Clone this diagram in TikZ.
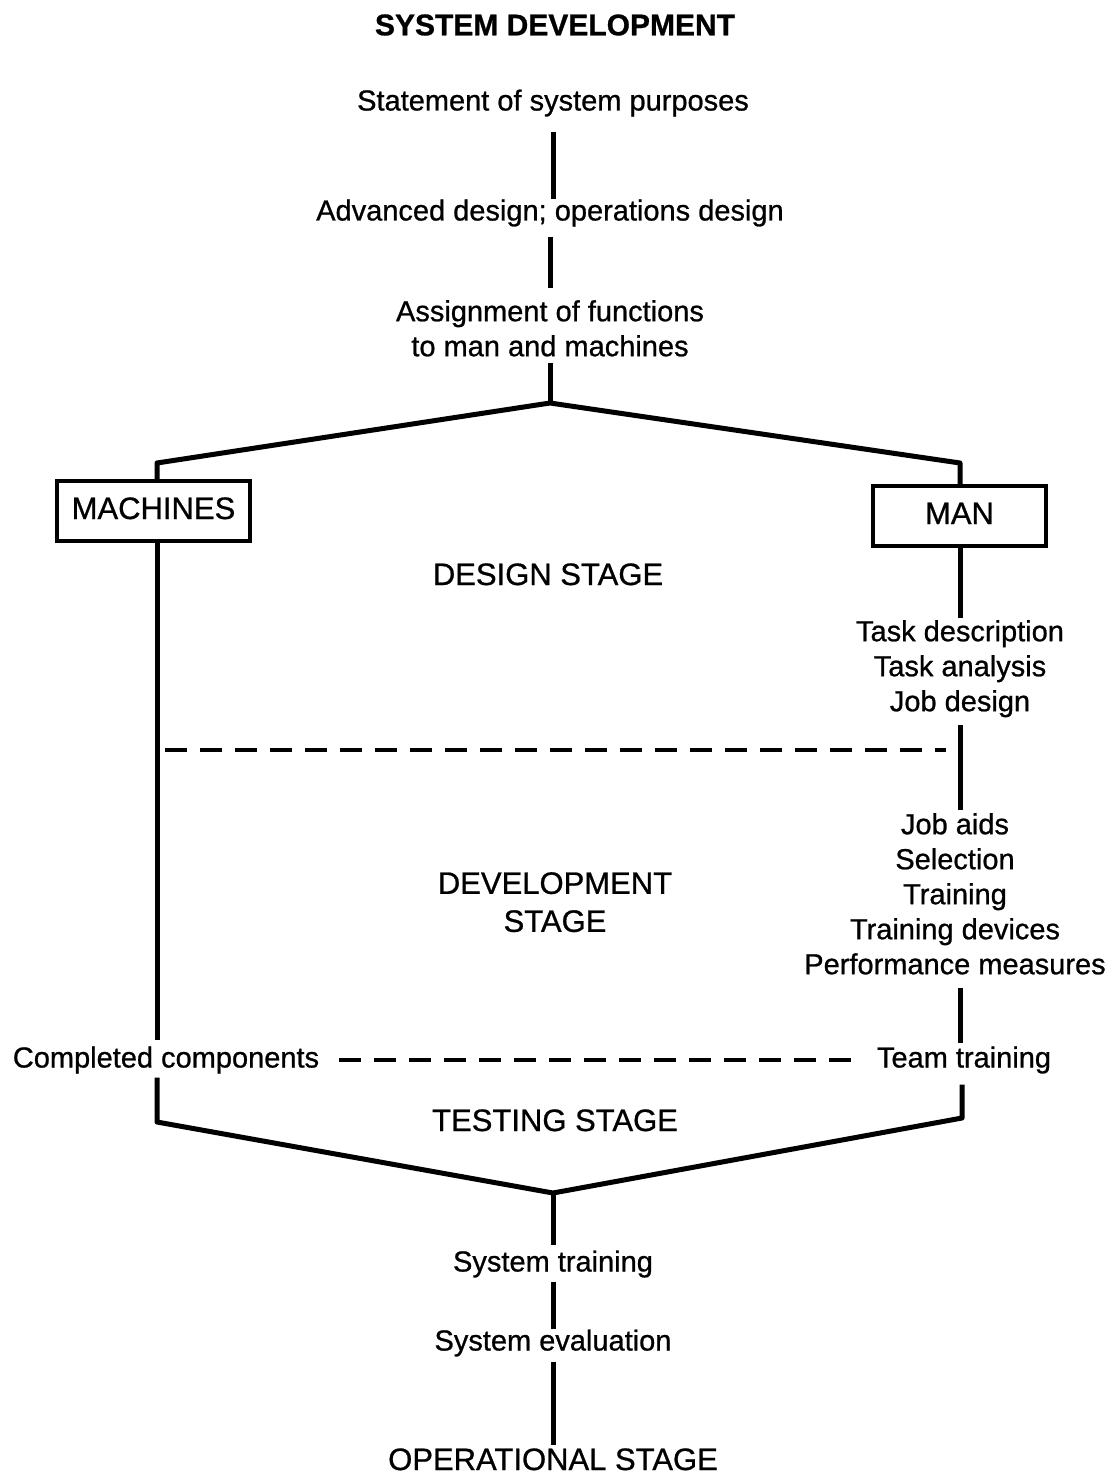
\documentclass[tikz,border=0pt]{standalone}
\usepackage{fontspec}
\setmainfont{Liberation Sans}[FakeBold=0.8]
\begin{document}
\begin{tikzpicture}[x=1pt,y=-1pt,
  txt/.style={font=\fontsize{29}{35}\selectfont, inner sep=0pt, text height=21pt, text depth=6pt},
  caps/.style={font=\fontsize{31}{37}\selectfont, inner sep=0pt, text height=22pt, text depth=6pt},
  stack/.style={font=\fontsize{29}{35}\selectfont, inner sep=0pt, align=center, anchor=north},
  capstack/.style={font=\fontsize{31}{38}\selectfont, inner sep=0pt, align=center, anchor=north},
  conn/.style={line width=5pt},
  dashline/.style={line width=3.5pt, dash pattern=on 22pt off 13pt},
  unitbox/.style={draw, line width=3.5pt, caps, minimum height=60pt},
]
\useasboundingbox (0,0) rectangle (1112,1479);

% texts
\node[font=\bfseries\fontsize{30}{36}\selectfont, inner sep=0pt] (title) at (555,25) {SYSTEM DEVELOPMENT};
\node[txt] (stmt) at (553,103) {Statement of system purposes};
\node[txt] (adv) at (550,213) {Advanced design; operations design};
\node[stack] (assign) at (550,300) {Assignment of functions\\to man and machines};
\node[unitbox, minimum width=193pt] (machines) at (153.5,511) {MACHINES};
\node[unitbox, minimum width=173pt] (man) at (959.5,516) {MAN};
\node[caps] (design) at (548,577) {DESIGN STAGE};
\node[stack] (tasks) at (960,620) {Task description\\Task analysis\\Job design};
\node[capstack] (devel) at (555,872) {DEVELOPMENT\\STAGE};
\node[stack] (aids) at (955,813) {Job aids\\Selection\\Training\\Training devices\\Performance measures};
\node[txt] (comp) at (166,1060) {Completed components};
\node[txt] (team) at (964,1060) {Team training};
\node[caps] (testing) at (555,1123) {TESTING STAGE};
\node[txt] (systr) at (553,1264) {System training};
\node[txt] (syseval) at (553,1343) {System evaluation};
\node[caps] (oper) at (553,1462) {OPERATIONAL STAGE};

% junctions and corners
\coordinate (apex) at (550,403);
\coordinate (lb) at (157,463);
\coordinate (rb) at (960,463);
\coordinate (lc) at (157,1122);
\coordinate (rc) at (962,1118);
\coordinate (bapex) at (553,1193);
\coordinate (d1) at (165,750);
\coordinate (d2) at (946,750);

% main flow
\draw[conn, shorten <=15pt] (stmt.south) -- (stmt.south |- adv.north);
\draw[conn, shorten <=10pt, shorten >=12pt] (adv.south) -- (adv.south |- assign.north);
\draw[conn, shorten <=6pt] (assign.south) -- (apex);
\draw[conn, line join=round] (machines.north -| lb) -- (lb) -- (apex) -- (rb) -- (man.north -| rb);

% machine branch
\draw[conn] (machines.south -| lb) -- ([yshift=6pt]comp.north -| lb);
\draw[conn, line join=round] ([yshift=-4pt]comp.south -| lb) -- (lc) -- (bapex) -- (rc) -- ([yshift=-11pt]team.south -| rc);

% man branch
\draw[conn, shorten >=2pt] (man.south -| rb) -- (tasks.north -| rb);
\draw[conn, shorten <=8pt, shorten >=3pt] (tasks.south -| rb) -- (aids.north -| rb);
\draw[conn, shorten <=13pt, shorten >=3pt] (aids.south -| rb) -- (team.north -| rb);

% final stages
\draw[conn, shorten >=5pt] (bapex) -- (bapex |- systr.north);
\draw[conn, shorten <=4pt] (systr.south) -- (syseval.north);
\draw[conn, shorten <=5pt, shorten >=3pt] (syseval.south) -- (oper.north);

% stage boundaries
\draw[dashline] (d1) -- (d2);
\draw[dashline, shorten <=20pt, shorten >=16pt] (comp.east) -- (team.west);
\end{tikzpicture}
\end{document}
